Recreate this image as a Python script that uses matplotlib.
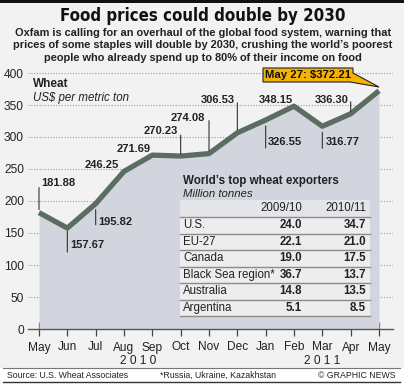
import matplotlib
matplotlib.use('Agg')
import matplotlib.pyplot as plt
from matplotlib import font_manager
from matplotlib.patches import Rectangle, Polygon

# wheat price, US$ per metric ton
months = ['May', 'Jun', 'Jul', 'Aug', 'Sep', 'Oct', 'Nov', 'Dec',
          'Jan', 'Feb', 'Mar', 'Apr', 'May']
price = [181.88, 157.67, 195.82, 246.25, 271.69, 270.23, 274.08,
         306.53, 326.55, 348.15, 316.77, 336.30, 372.21]
yticks = [0, 50, 100, 150, 200, 250, 300, 350, 400]
years = ['2 0 1 0', '2 0 1 1']

# top wheat exporters, million tonnes
exporters = ['U.S.', 'EU-27', 'Canada', 'Black Sea region*', 'Australia', 'Argentina']
exp_0910 = [24.0, 22.1, 19.0, 36.7, 14.8, 5.1]
exp_1011 = [34.7, 21.0, 17.5, 13.7, 13.5, 8.5]
seasons = ['2009/10', '2010/11']

# label placement: text offset (px, down = +), alignment, leader line (px from point)
lab_pos = [(2, -30, 'left', (-3, -25)), (3, 17, 'left', (3, 24)),
           (3, 18, 'left', (6, 21)), (-5, -6, 'right', None),
           (-2, -6, 'right', None), (-3, -25, 'right', (-2, -21)),
           (-4, -36, 'right', (-3, -33)), (-3, -33, 'right', (-3, -30)),
           (2, 22, 'left', (6, 28)), (-1, -6, 'right', None),
           (3, 16, 'left', (6, 22)), (-2, -14, 'right', (-2, -12))]

W, H = 404, 385
BG = '#f2f2f2'
LINE = '#5b6d60'
FILL = '#d2d5de'
FONT = 'Liberation Sans'
plt.rcParams['font.family'] = [FONT, 'DejaVu Sans']

# a condensed bold face for the headline, if one is installed
title_fp = font_manager.FontProperties(family=FONT, weight='bold')
for f in font_manager.fontManager.ttflist:
    if f.stretch in ('condensed', 'semi-condensed', 'extra-condensed') \
            and f.weight in (700, 'bold', 800, 900, 'heavy', 'black') \
            and f.style == 'normal':
        title_fp = font_manager.FontProperties(fname=f.fname)
        break

fig = plt.figure(figsize=(W / 100, H / 100), dpi=100, facecolor=BG)

def fx(px):
    return px / W

def fy(py):
    return 1 - py / H

# main chart: x from 28 to 393 px, y from 63 to 329 px
ax = fig.add_axes([fx(28), fy(329), (393 - 28) / W, (329 - 63) / H])
ax.set_facecolor(BG)
x = list(range(len(months)))
px_per_m = 28.33
ax.set_xlim(-11 / px_per_m, 12 + 14 / px_per_m)
ax.set_ylim(0, (329 - 63) / 0.64)

for v in yticks[1:]:
    ax.axhline(v, color='#9a9a9a', lw=0.8, ls=(0, (1, 1.5)), zorder=1)
ax.fill_between(x, price, 0, color=FILL, lw=0, zorder=2)
ax.plot(x, price, color=LINE, lw=3.8, solid_joinstyle='round',
        solid_capstyle='butt', zorder=4)

for spine in ['top', 'right', 'left']:
    ax.spines[spine].set_visible(False)
ax.spines['bottom'].set_color('#555555')
ax.spines['bottom'].set_linewidth(1)
ax.spines['bottom'].set_zorder(5)
ax.set_yticks(yticks)
ax.set_yticklabels([str(v) for v in yticks], fontsize=8.6, color='#222222')
ax.tick_params(axis='y', length=0, pad=3)
ax.set_xticks(x)
ax.set_xticklabels(months, fontsize=8.6, color='#222222')
ax.tick_params(axis='x', length=10, width=0.9, color='#444444',
               direction='inout', pad=4)
ax.text(3.5, -0.12, years[0], transform=ax.get_xaxis_transform(),
        ha='center', va='center', fontsize=8.6, color='#222222')
ax.text(10, -0.12, years[1], transform=ax.get_xaxis_transform(),
        ha='center', va='center', fontsize=8.6, color='#222222')

# value labels with leader lines
for i, (dx, dy, ha, lead) in enumerate(lab_pos):
    ax.annotate(f'{price[i]:.2f}', (x[i], price[i]), xytext=(dx, -dy),
                textcoords='offset pixels', ha=ha, va='center',
                fontsize=8, fontweight='bold', color='#222222', zorder=6)
    if lead:
        ax.annotate('', (x[i], price[i]), xytext=(0, -lead[1]),
                    textcoords='offset pixels',
                    arrowprops=dict(arrowstyle='-', color='#333333', lw=0.8,
                                    shrinkA=0, shrinkB=abs(lead[0]) * 0.72),
                    zorder=6)

ax.text(0.015, 0.92, 'Wheat', transform=ax.transAxes, fontsize=8.5,
        fontweight='bold', color='#222222', va='center')
ax.text(0.015, 0.87, 'US$ per metric ton', transform=ax.transAxes,
        fontsize=8.3, style='italic', color='#222222', va='center')

# overlay in pixel coordinates for titles, table, callout, footer
ov = fig.add_axes([0, 0, 1, 1], zorder=10)
ov.set_xlim(0, W)
ov.set_ylim(H, 0)
ov.axis('off')

ov.add_patch(Rectangle((0, 0), W, 3, color='#111111', lw=0))
title = ov.text(W / 2 + 1, 16, 'Food prices could double by 2030', ha='center',
                va='center', fontproperties=title_fp, fontsize=16,
                color='#111111')
# fit the headline to the reference width (about 285 px)
fig.canvas.draw()
tw = title.get_window_extent().width
title.set_fontsize(16 * 285 / tw)

sub = ['Oxfam is calling for an overhaul of the global food system, warning that',
       'prices of some staples will double by 2030, crushing the world\u2019s poorest',
       'people who already spend up to 80% of their income on food']
for k, line in enumerate(sub):
    ov.text(W / 2 + 1, 33 + k * 12.5, line, ha='center', va='center',
            fontsize=7.9, fontweight='bold', color='#222222')

# table
tx0, tx1 = 180, 370
ov.text(183, 181, 'World\u2019s top wheat exporters', fontsize=8.4,
        fontweight='bold', color='#222222', va='center')
ov.text(183, 194, 'Million tonnes', fontsize=8.2, style='italic',
        color='#222222', va='center')
ov.add_patch(Rectangle((tx0, 200), tx1 - tx0, 16.5, color='#e4e5e9', lw=0))
ov.text(302, 208, seasons[0], ha='right', va='center', fontsize=8.3, color='#222222')
ov.text(366, 208, seasons[1], ha='right', va='center', fontsize=8.3, color='#222222')
row_h = 16.5
for k, name in enumerate(exporters):
    top = 217 + k * row_h
    ov.add_patch(Rectangle((tx0, top), tx1 - tx0, row_h, facecolor='#ededed',
                           edgecolor='none'))
    ov.plot([tx0, tx1], [top, top], color='#8c8c8c', lw=1)
    yc = top + row_h / 2
    ov.text(183, yc, name, va='center', fontsize=8.3, color='#222222')
    ov.text(302, yc, f'{exp_0910[k]:.1f}', ha='right', va='center',
            fontsize=8.3, fontweight='bold', color='#222222')
    ov.text(366, yc, f'{exp_1011[k]:.1f}', ha='right', va='center',
            fontsize=8.3, fontweight='bold', color='#222222')
ov.plot([tx0, tx1], [217 + 6 * row_h, 217 + 6 * row_h], color='#8c8c8c', lw=1)

# callout for latest price
ov.add_patch(Polygon([(263, 68), (353, 68), (353, 73), (379, 87), (350, 82),
                      (263, 82)], closed=True, facecolor='#f5b301',
                     edgecolor='#222222', lw=0.8))
ov.text(308, 75, f'May 27: ${price[-1]:.2f}', ha='center', va='center',
        fontsize=8.2, fontweight='bold', color='#111111')

# footer
ov.add_patch(Rectangle((0, 368), W, H - 368, color='white', lw=0))
ov.plot([3, 400], [368, 368], color='#777777', lw=0.8)
ov.plot([3, 400], [382, 382], color='#333333', lw=1)
ov.text(7, 375, 'Source: U.S. Wheat Associates', va='center', fontsize=6.3,
        color='#222222')
ov.text(160, 375, '*Russia, Ukraine, Kazakhstan', va='center', fontsize=6.3,
        color='#222222')
ov.text(396, 375, '\u00a9 GRAPHIC NEWS', ha='right', va='center',
        fontsize=6.3, color='#222222')

fig.savefig('out.png', dpi=100, facecolor=BG)
